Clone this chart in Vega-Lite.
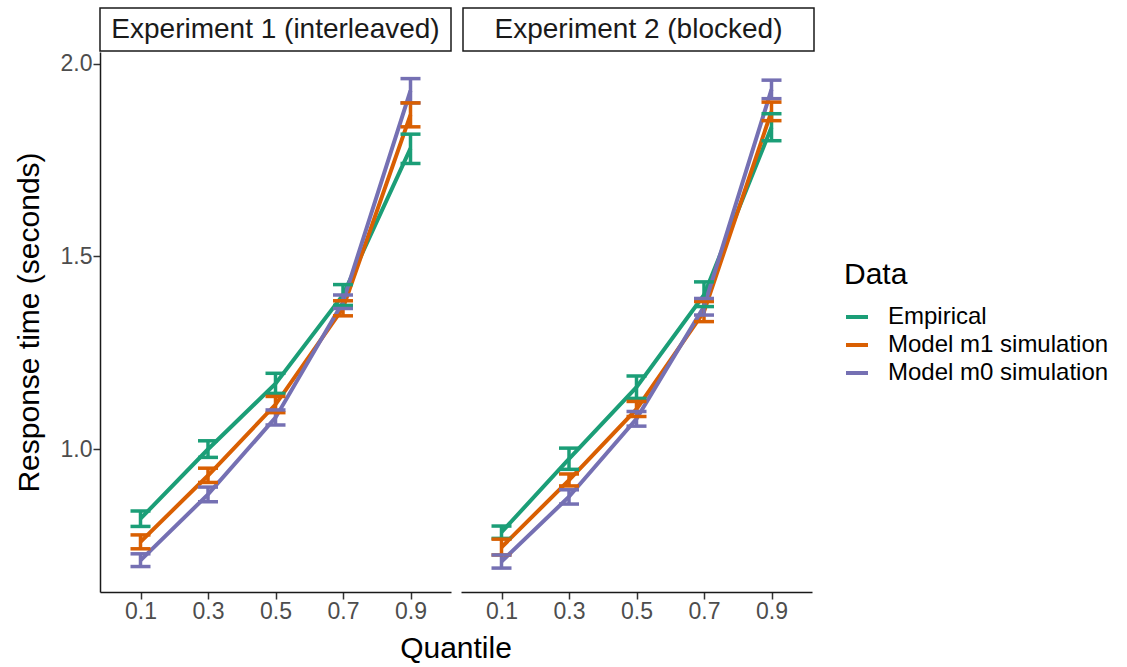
{
  "$schema": "https://vega.github.io/schema/vega-lite/v6.json",
  "background": "white",
  "padding": {"left": 14, "top": 7, "right": 5, "bottom": 2},
  "datasets": {
    "strips": [
      {"exp": "Experiment 1 (interleaved)"},
      {"exp": "Experiment 2 (blocked)"}
    ],
    "rt": [
      {"exp": "Experiment 1 (interleaved)", "quantile": "0.1", "data": "Empirical", "mean": 0.82, "lo": 0.800, "hi": 0.840},
      {"exp": "Experiment 1 (interleaved)", "quantile": "0.3", "data": "Empirical", "mean": 1.00, "lo": 0.979, "hi": 1.022},
      {"exp": "Experiment 1 (interleaved)", "quantile": "0.5", "data": "Empirical", "mean": 1.17, "lo": 1.145, "hi": 1.197},
      {"exp": "Experiment 1 (interleaved)", "quantile": "0.7", "data": "Empirical", "mean": 1.40, "lo": 1.373, "hi": 1.427},
      {"exp": "Experiment 1 (interleaved)", "quantile": "0.9", "data": "Empirical", "mean": 1.78, "lo": 1.741, "hi": 1.817},
      {"exp": "Experiment 1 (interleaved)", "quantile": "0.1", "data": "Model m1 simulation", "mean": 0.760, "lo": 0.742, "hi": 0.778},
      {"exp": "Experiment 1 (interleaved)", "quantile": "0.3", "data": "Model m1 simulation", "mean": 0.932, "lo": 0.914, "hi": 0.951},
      {"exp": "Experiment 1 (interleaved)", "quantile": "0.5", "data": "Model m1 simulation", "mean": 1.116, "lo": 1.095, "hi": 1.137},
      {"exp": "Experiment 1 (interleaved)", "quantile": "0.7", "data": "Model m1 simulation", "mean": 1.366, "lo": 1.346, "hi": 1.385},
      {"exp": "Experiment 1 (interleaved)", "quantile": "0.9", "data": "Model m1 simulation", "mean": 1.867, "lo": 1.836, "hi": 1.898},
      {"exp": "Experiment 1 (interleaved)", "quantile": "0.1", "data": "Model m0 simulation", "mean": 0.712, "lo": 0.696, "hi": 0.729},
      {"exp": "Experiment 1 (interleaved)", "quantile": "0.3", "data": "Model m0 simulation", "mean": 0.883, "lo": 0.864, "hi": 0.902},
      {"exp": "Experiment 1 (interleaved)", "quantile": "0.5", "data": "Model m0 simulation", "mean": 1.082, "lo": 1.063, "hi": 1.102},
      {"exp": "Experiment 1 (interleaved)", "quantile": "0.7", "data": "Model m0 simulation", "mean": 1.382, "lo": 1.365, "hi": 1.400},
      {"exp": "Experiment 1 (interleaved)", "quantile": "0.9", "data": "Model m0 simulation", "mean": 1.930, "lo": 1.898, "hi": 1.961},
      {"exp": "Experiment 2 (blocked)", "quantile": "0.1", "data": "Empirical", "mean": 0.785, "lo": 0.769, "hi": 0.801},
      {"exp": "Experiment 2 (blocked)", "quantile": "0.3", "data": "Empirical", "mean": 0.975, "lo": 0.948, "hi": 1.003},
      {"exp": "Experiment 2 (blocked)", "quantile": "0.5", "data": "Empirical", "mean": 1.161, "lo": 1.132, "hi": 1.190},
      {"exp": "Experiment 2 (blocked)", "quantile": "0.7", "data": "Empirical", "mean": 1.400, "lo": 1.370, "hi": 1.434},
      {"exp": "Experiment 2 (blocked)", "quantile": "0.9", "data": "Empirical", "mean": 1.835, "lo": 1.800, "hi": 1.870},
      {"exp": "Experiment 2 (blocked)", "quantile": "0.1", "data": "Model m1 simulation", "mean": 0.746, "lo": 0.726, "hi": 0.767},
      {"exp": "Experiment 2 (blocked)", "quantile": "0.3", "data": "Model m1 simulation", "mean": 0.920, "lo": 0.905, "hi": 0.936},
      {"exp": "Experiment 2 (blocked)", "quantile": "0.5", "data": "Model m1 simulation", "mean": 1.104, "lo": 1.085, "hi": 1.124},
      {"exp": "Experiment 2 (blocked)", "quantile": "0.7", "data": "Model m1 simulation", "mean": 1.357, "lo": 1.331, "hi": 1.383},
      {"exp": "Experiment 2 (blocked)", "quantile": "0.9", "data": "Model m1 simulation", "mean": 1.876, "lo": 1.852, "hi": 1.900},
      {"exp": "Experiment 2 (blocked)", "quantile": "0.1", "data": "Model m0 simulation", "mean": 0.709, "lo": 0.692, "hi": 0.726},
      {"exp": "Experiment 2 (blocked)", "quantile": "0.3", "data": "Model m0 simulation", "mean": 0.877, "lo": 0.858, "hi": 0.895},
      {"exp": "Experiment 2 (blocked)", "quantile": "0.5", "data": "Model m0 simulation", "mean": 1.079, "lo": 1.060, "hi": 1.098},
      {"exp": "Experiment 2 (blocked)", "quantile": "0.7", "data": "Model m0 simulation", "mean": 1.370, "lo": 1.348, "hi": 1.391},
      {"exp": "Experiment 2 (blocked)", "quantile": "0.9", "data": "Model m0 simulation", "mean": 1.933, "lo": 1.909, "hi": 1.957}
    ]
  },
  "spacing": 0,
  "vconcat": [
    {
      "data": {"name": "strips"},
      "spacing": 10,
      "facet": {"column": {"field": "exp", "type": "nominal", "sort": null, "title": null, "header": {"labels": false, "title": null, "labelPadding": 0, "titlePadding": 0}}},
      "spec": {
        "width": 351,
        "height": 43,
        "view": {"stroke": "#1a1a1a", "strokeWidth": 1.5, "fill": "white"},
        "mark": {"type": "text", "font": "Liberation Sans", "fontSize": 28, "color": "#1a1a1a", "baseline": "middle", "align": "center"},
        "encoding": {"text": {"field": "exp", "type": "nominal"}}
      }
    },
    {
      "data": {"name": "rt"},
      "spacing": 10,
      "facet": {"column": {"field": "exp", "type": "nominal", "sort": null, "title": "Quantile",
        "header": {"labels": false, "labelPadding": 0, "titleOrient": "bottom", "titlePadding": 1,
                   "titleFont": "Liberation Sans", "titleFontSize": 30, "titleFontWeight": "normal", "titleColor": "#000000"}}},
      "spec": {
        "width": 351,
        "height": 540,
        "view": {"stroke": null},
        "encoding": {
          "x": {"field": "quantile", "type": "ordinal", "scale": {"type": "point", "padding": 0.6}, "title": null,
                "axis": {"labelAngle": 0}},
          "color": {"field": "data", "type": "nominal", "title": "Data",
                    "scale": {"domain": ["Empirical", "Model m1 simulation", "Model m0 simulation"], "range": ["#1B9E77", "#D95F02", "#7570B3"]}}
        },
        "layer": [
          {
            "mark": {"type": "line", "strokeWidth": 4},
            "encoding": {
              "y": {"field": "mean", "type": "quantitative", "title": "Response time (seconds)",
                    "scale": {"domain": [0.63, 2.03], "nice": false, "zero": false},
                    "axis": {"values": [1.0, 1.5, 2.0], "format": ".1f", "titlePadding": 16}}
            }
          },
          {
            "mark": {"type": "rule", "strokeWidth": 3.5},
            "encoding": {"y": {"field": "lo", "type": "quantitative"}, "y2": {"field": "hi"}}
          },
          {
            "mark": {"type": "tick", "size": 20, "thickness": 3.5, "opacity": 1},
            "encoding": {"y": {"field": "lo", "type": "quantitative"}}
          },
          {
            "mark": {"type": "tick", "size": 20, "thickness": 3.5, "opacity": 1},
            "encoding": {"y": {"field": "hi", "type": "quantitative"}}
          }
        ]
      }
    }
  ],
  "config": {
    "font": "Liberation Sans",
    "axis": {
      "grid": false,
      "domainColor": "#1a1a1a",
      "domainWidth": 1.5,
      "tickColor": "#333333",
      "tickWidth": 1.5,
      "tickSize": 7,
      "labelFont": "Liberation Sans",
      "labelFontSize": 23,
      "labelColor": "#4d4d4d",
      "labelPadding": 1,
      "titleFont": "Liberation Sans",
      "titleFontSize": 30,
      "titleFontWeight": "normal",
      "titleColor": "#000000",
      "titlePadding": 12
    },
    "legend": {
      "orient": "none",
      "legendX": 744,
      "legendY": 252,
      "titleFont": "Liberation Sans",
      "titleFontSize": 30,
      "titleFontWeight": "normal",
      "titleColor": "#000000",
      "titlePadding": 14,
      "labelFont": "Liberation Sans",
      "labelFontSize": 24,
      "labelColor": "#000000",
      "labelOffset": 18,
      "labelLimit": 400,
      "symbolType": "stroke",
      "symbolStrokeWidth": 4,
      "symbolSize": 484,
      "symbolOpacity": 1,
      "rowPadding": 3
    }
  }
}
